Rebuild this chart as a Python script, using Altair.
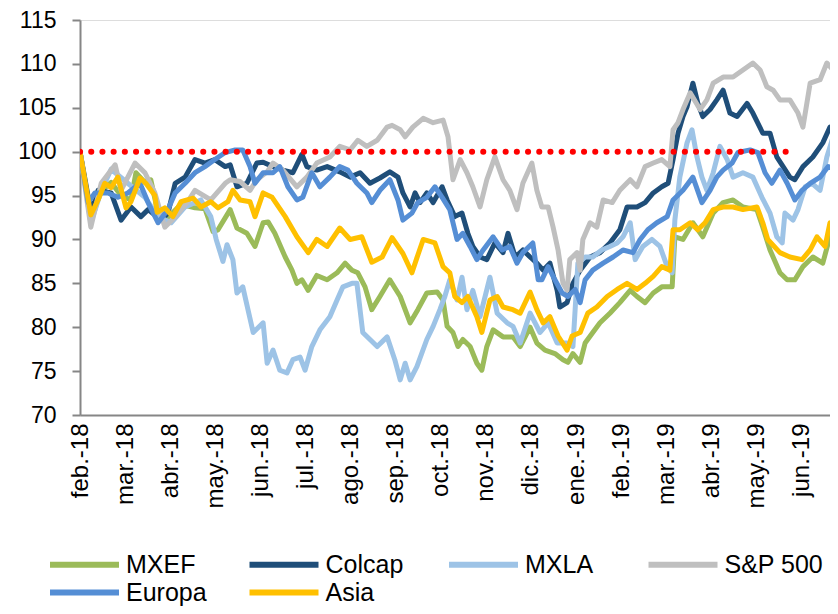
import json
import altair as alt
import pandas as pd

month_labels = ["feb.-18", "mar.-18", "abr.-18", "may.-18", "jun.-18", "jul.-18",
                "ago.-18", "sep.-18", "oct.-18", "nov.-18", "dic.-18", "ene.-19",
                "feb.-19", "mar.-19", "abr.-19", "may.-19", "jun.-19"]
y_ticks = [70, 75, 80, 85, 90, 95, 100, 105, 110, 115]

series_names = ["MXEF", "Colcap", "MXLA", "S&P 500", "Europa", "Asia"]
series_colors = ["#9BBB59", "#1F4E79", "#9DC3E6", "#BFBFBF", "#558ED5", "#FFC000"]

# t = months since start of feb.-18
mxef_t = [0, 0.24, 0.47, 0.69, 0.91, 1.13, 1.24, 1.44, 1.57, 1.73, 1.95, 2.24, 2.55, 2.77, 2.95, 3.06,
          3.33, 3.48, 3.70, 3.88, 4.06, 4.17, 4.32, 4.55, 4.70, 4.81, 4.92, 5.06, 5.25, 5.48, 5.70,
          5.88, 6.03, 6.16, 6.32, 6.47, 6.65, 6.87, 7.10, 7.32, 7.49, 7.69, 7.92, 8.05, 8.14, 8.27,
          8.38, 8.49, 8.65, 8.80, 8.91, 9.02, 9.16, 9.38, 9.60, 9.76, 9.98, 10.13, 10.31, 10.53,
          10.71, 10.82, 10.93, 11.09, 11.20, 11.37, 11.53, 11.75, 11.97, 12.20, 12.35, 12.53, 12.71,
          12.90, 13.13, 13.19, 13.37, 13.59, 13.81, 14.04, 14.26, 14.48, 14.70, 15.01, 15.14, 15.30,
          15.52, 15.68, 15.85, 16.03, 16.25, 16.47, 16.67, 16.81]
mxef_v = [100, 92.5, 95.5, 96.5, 95.0, 94.5, 97.6, 96.5, 96.8, 93.0, 92.5, 94.0, 93.6, 93.5, 90.9, 91.1,
          93.4, 91.3, 90.7, 89.2, 91.9, 92.0, 90.7, 88.0, 86.5, 85.0, 85.4, 84.2, 85.9, 85.4, 86.2,
          87.3, 86.5, 86.2, 84.6, 82.0, 83.5, 85.4, 83.5, 80.5, 82.0, 83.9, 84.0, 83.1, 80.1, 79.4,
          77.8, 78.6, 77.8, 75.9, 75.1, 77.8, 79.7, 78.9, 78.9, 77.8, 80.0, 78.2, 77.4, 77.0,
          76.3, 76.0, 77.0, 76.0, 78.2, 79.4, 80.5, 81.6, 82.8, 84.2, 83.5, 82.8, 83.9,
          84.6, 84.6, 90.3, 90.0, 91.9, 90.3, 93.0, 94.2, 94.5, 93.7, 93.4, 91.4, 88.8,
          86.2, 85.4, 85.4, 86.9, 88.0, 87.3, 91.1, 90.3]

colcap_t = [0, 0.18, 0.29, 0.40, 0.69, 0.91, 1.13, 1.35, 1.51, 1.80, 1.95, 2.11, 2.33, 2.55, 2.77, 2.99,
            3.22, 3.33, 3.48, 3.70, 3.92, 4.06, 4.28, 4.50, 4.72, 4.92, 5.03, 5.25, 5.48, 5.76, 5.99,
            6.21, 6.43, 6.65, 6.87, 7.05, 7.16, 7.32, 7.43, 7.54, 7.69, 7.83, 8.03, 8.14, 8.31, 8.47,
            8.60, 8.71, 8.87, 9.02, 9.20, 9.38, 9.49, 9.65, 9.82, 9.98, 10.13, 10.27, 10.42, 10.58,
            10.64, 10.80, 10.93, 11.09, 11.31, 11.53, 11.75, 11.97, 12.13, 12.35, 12.53, 12.71, 12.90,
            13.04, 13.15, 13.26, 13.37, 13.46, 13.59, 13.70, 13.81, 13.97, 14.12, 14.26, 14.41, 14.57,
            14.79, 14.92, 15.14, 15.30, 15.45, 15.59, 15.74, 15.85, 16.03, 16.25, 16.47, 16.63, 16.78]
colcap_v = [100, 94.9, 93.4, 95.6, 95.3, 92.2, 93.7, 92.6, 93.4, 92.2, 93.0, 96.4, 97.1, 99.1, 98.7, 99.1,
            98.3, 98.5, 96.0, 96.4, 98.7, 98.8, 98.3, 97.9, 97.6, 99.7, 98.3, 97.9, 98.3, 97.7, 97.1,
            97.6, 96.4, 97.0, 97.7, 97.1, 95.3, 93.7, 95.3, 94.2, 95.3, 94.2, 96.0, 94.5, 92.6, 93.0,
            90.7, 89.2, 88.0, 87.7, 89.6, 88.5, 90.7, 88.0, 88.8, 88.0, 87.3, 86.5, 87.3, 84.2,
            82.3, 82.8, 85.0, 86.5, 88.0, 88.5, 89.6, 91.1, 93.7, 93.7, 94.2, 95.3, 96.0,
            96.4, 99.1, 102.1, 104.0, 105.1, 107.8, 105.5, 104.0, 104.8, 105.9, 107.0, 104.4, 104.0,
            105.5, 104.4, 102.1, 102.1, 99.4, 98.3, 97.1, 96.8, 98.3, 99.4, 101.0, 102.8, 102.5]

mxla_t = [0, 0.24, 0.47, 0.69, 1.06, 1.44, 1.73, 2.02, 2.33, 2.68, 2.90, 3.02, 3.17, 3.26, 3.39, 3.48,
          3.61, 3.84, 4.06, 4.15, 4.28, 4.43, 4.59, 4.72, 4.88, 4.99, 5.14, 5.32, 5.54, 5.70, 5.83,
          6.03, 6.14, 6.27, 6.43, 6.59, 6.81, 6.98, 7.10, 7.21, 7.32, 7.47, 7.69, 7.83, 7.98, 8.09,
          8.20, 8.36, 8.47, 8.58, 8.71, 8.87, 9.09, 9.25, 9.47, 9.60, 9.76, 9.98, 10.20, 10.38,
          10.58, 10.80, 10.93, 11.04, 11.20, 11.37, 11.57, 11.75, 11.91, 12.04, 12.20, 12.31, 12.48,
          12.68, 12.86, 13.02, 13.13, 13.19, 13.30, 13.46, 13.57, 13.68, 13.79, 13.90, 14.04, 14.19,
          14.35, 14.48, 14.70, 14.92, 15.12, 15.30, 15.45, 15.57, 15.63, 15.81, 15.92, 16.08, 16.23,
          16.41, 16.56, 16.70, 16.81]
mxla_v = [100, 91.9, 95.5, 98.0, 96.4, 94.8, 92.6, 91.9, 93.7, 94.5, 92.6, 90.0, 87.5, 89.4, 87.7, 83.9,
          84.6, 79.4, 80.5, 75.9, 77.4, 75.1, 74.8, 76.3, 76.6, 75.1, 77.8, 79.7, 81.2, 83.1, 84.6,
          85.0, 85.0, 79.4, 78.6, 77.8, 78.9, 76.3, 74.0, 75.9, 74.0, 75.5, 78.6, 80.1, 82.0, 83.5,
          85.4, 83.1, 85.7, 82.0, 84.2, 81.2, 85.7, 81.6, 80.5, 80.1, 78.2, 81.6, 79.4, 80.5,
          78.2, 78.2, 77.8, 87.3, 88.0, 88.0, 88.8, 89.2, 89.6, 90.3, 91.9, 87.7, 89.2,
          90.0, 89.2, 86.9, 86.2, 92.2, 97.1, 101.0, 102.5, 99.4, 97.1, 95.6, 97.6, 100.6,
          99.1, 97.1, 97.6, 97.1, 94.8, 93.0, 90.3, 89.6, 93.0, 92.2, 93.4, 96.0, 96.4,
          95.6, 99.4, 101.7, 101.3]

sp500_t = [0, 0.24, 0.47, 0.78, 0.91, 1.22, 1.44, 1.66, 1.88, 2.11, 2.39, 2.55, 2.90, 3.22, 3.33, 3.55,
           3.77, 3.92, 4.15, 4.28, 4.50, 4.81, 5.03, 5.25, 5.54, 5.76, 5.99, 6.16, 6.36, 6.59, 6.81,
           6.92, 7.10, 7.21, 7.38, 7.61, 7.83, 8.05, 8.16, 8.27, 8.43, 8.58, 8.71, 8.87, 9.02, 9.20,
           9.38, 9.53, 9.69, 9.82, 10.02, 10.13, 10.24, 10.38, 10.49, 10.60, 10.71, 10.80, 10.86,
           11.02, 11.09, 11.15, 11.31, 11.46, 11.60, 11.80, 11.97, 12.20, 12.35, 12.53, 12.71, 12.90,
           13.08, 13.15, 13.26, 13.37, 13.53, 13.75, 13.90, 14.04, 14.26, 14.48, 14.70, 14.92, 15.08,
           15.23, 15.37, 15.52, 15.74, 15.92, 16.03, 16.19, 16.41, 16.56, 16.70, 16.81]
sp500_v = [100, 91.4, 96.4, 98.5, 95.6, 98.7, 97.6, 95.3, 91.4, 92.6, 94.3, 95.6, 94.5, 96.4, 96.8, 96.6,
           95.6, 96.8, 97.7, 98.7, 97.9, 96.0, 97.1, 98.7, 99.4, 100.6, 100.2, 101.3, 100.6, 101.3, 102.8,
           103.0, 102.5, 101.7, 102.8, 103.8, 103.3, 103.6, 101.7, 96.8, 99.1, 97.6, 96.0, 93.7, 96.8, 99.4,
           96.8, 95.6, 93.4, 96.4, 98.7, 95.6, 93.7, 93.7, 91.4, 88.8, 85.0, 84.2, 87.7,
           88.5, 86.5, 90.0, 91.9, 91.4, 94.5, 94.2, 95.6, 96.8, 96.0, 98.3, 98.7, 99.1,
           98.3, 102.5, 103.3, 104.8, 106.7, 104.8, 105.9, 107.8, 108.5, 108.5, 109.3, 110.1, 109.3,
           107.4, 107.0, 105.9, 105.9, 104.4, 102.8, 107.8, 108.2, 110.1, 109.3, 109.3]

europa_t = [0, 0.18, 0.33, 0.62, 0.84, 1.06, 1.33, 1.51, 1.73, 1.95, 2.11, 2.33, 2.55, 2.77, 2.99, 3.22,
            3.44, 3.61, 3.77, 3.88, 4.06, 4.28, 4.43, 4.61, 4.81, 4.94, 5.14, 5.32, 5.54, 5.76, 5.94,
            6.14, 6.36, 6.47, 6.65, 6.87, 7.05, 7.16, 7.36, 7.49, 7.69, 7.87, 8.03, 8.20, 8.36, 8.49,
            8.65, 8.80, 8.94, 9.16, 9.36, 9.53, 9.69, 9.82, 10.04, 10.16, 10.24, 10.38, 10.53, 10.69,
            10.82, 10.98, 11.09, 11.20, 11.37, 11.60, 11.82, 12.04, 12.26, 12.42, 12.59, 12.79, 13.02,
            13.15, 13.37, 13.59, 13.79, 13.97, 14.12, 14.26, 14.46, 14.59, 14.86, 15.03, 15.19, 15.34,
            15.52, 15.68, 15.85, 16.01, 16.19, 16.41, 16.59, 16.81]
europa_v = [100, 94.2, 95.3, 95.3, 94.8, 95.3, 96.4, 94.2, 91.9, 93.4, 95.3, 96.4, 97.6, 98.3, 99.1, 99.9,
            100.2, 100.2, 98.3, 96.4, 97.6, 97.6, 98.3, 96.0, 94.5, 94.8, 97.6, 96.0, 97.1, 98.3, 97.9,
            96.4, 95.3, 94.2, 95.6, 96.8, 94.5, 92.2, 93.0, 94.2, 94.8, 96.0, 94.8, 93.4, 90.0, 90.7,
            89.2, 87.7, 88.8, 90.3, 88.8, 89.2, 87.3, 88.5, 89.6, 85.4, 85.4, 86.9, 85.4, 83.9,
            83.5, 84.3, 82.8, 85.4, 86.5, 87.3, 88.0, 88.8, 88.5, 90.0, 91.1, 91.9, 92.6,
            94.5, 95.6, 97.1, 94.2, 95.6, 97.1, 97.9, 98.7, 99.9, 100.2, 99.9, 97.6, 96.4,
            97.9, 96.4, 94.5, 95.6, 96.4, 97.1, 98.3, 97.9]

asia_t = [0, 0.24, 0.40, 0.55, 0.69, 0.84, 1.02, 1.13, 1.33, 1.46, 1.66, 1.71, 1.88, 2.06, 2.24, 2.51,
          2.68, 2.90, 3.06, 3.28, 3.39, 3.55, 3.77, 3.88, 4.06, 4.26, 4.55, 4.81, 5.06, 5.25, 5.48,
          5.76, 5.99, 6.25, 6.47, 6.70, 6.92, 7.16, 7.36, 7.47, 7.61, 7.87, 8.05, 8.20, 8.31, 8.47,
          8.60, 8.80, 8.91, 9.09, 9.25, 9.38, 9.60, 9.76, 9.98, 10.13, 10.27, 10.42, 10.60, 10.80,
          10.91, 11.09, 11.26, 11.46, 11.69, 11.91, 12.13, 12.35, 12.53, 12.71, 12.90, 13.08, 13.15,
          13.30, 13.53, 13.70, 13.86, 14.04, 14.26, 14.48, 14.70, 15.01, 15.14, 15.25, 15.52, 15.74,
          16.01, 16.19, 16.34, 16.52, 16.63, 16.81]
asia_v = [100, 92.8, 94.5, 96.4, 95.9, 97.1, 93.6, 94.3, 97.0, 96.4, 95.0, 93.1, 93.6, 92.6, 94.3, 94.7,
          93.7, 94.3, 93.6, 94.3, 95.6, 94.5, 94.3, 92.6, 95.3, 94.8, 92.6, 90.3, 88.5, 90.0, 89.2,
          91.3, 90.0, 90.3, 87.4, 88.0, 90.2, 88.4, 86.2, 87.9, 90.0, 89.6, 86.9, 86.2, 83.5, 82.8,
          83.5, 81.2, 79.4, 83.1, 83.5, 82.3, 82.0, 81.6, 84.0, 82.0, 80.5, 81.2, 79.0, 77.4,
          79.0, 79.4, 81.6, 82.3, 83.5, 84.3, 85.0, 84.3, 85.0, 85.8, 86.9, 86.5, 91.1,
          91.1, 91.9, 91.1, 91.9, 93.4, 93.7, 93.7, 93.4, 93.7, 91.9, 90.0, 88.5, 88.0,
          87.7, 88.8, 90.3, 89.2, 91.9, 91.9]

ref_t = [0, 15.85]
ref_v = [100, 100]

series_data = [(mxef_t, mxef_v), (colcap_t, colcap_v), (mxla_t, mxla_v),
               (sp500_t, sp500_v), (europa_t, europa_v), (asia_t, asia_v)]
frames = []
for name, (ts, vs) in zip(series_names, series_data):
    frames.append(pd.DataFrame({"t": ts, "v": vs, "serie": name}))
df = pd.concat(frames, ignore_index=True)
ref_df = pd.DataFrame({"t": ref_t, "v": ref_v})

FONT = "Liberation Sans"
label_expr = json.dumps(month_labels) + "[round(datum.value)]"

x_enc = alt.X("t:Q",
              scale=alt.Scale(domain=[0, 16.63], nice=False, zero=False),
              axis=alt.Axis(values=list(range(len(month_labels))), labelExpr=label_expr,
                            labelAngle=-90, ticks=False, grid=False, title=None,
                            labelFontSize=24, labelPadding=8, labelFont=FONT,
                            labelColor="#000000", domainColor="#868686", domainWidth=2))
y_enc = alt.Y("v:Q",
              scale=alt.Scale(domain=[70, 115], nice=False, zero=False),
              axis=alt.Axis(values=y_ticks, grid=False, title=None, tickSize=8,
                            tickColor="#868686", tickWidth=2, labelFontSize=23,
                            labelPadding=16, labelFont=FONT, labelColor="#000000",
                            domainColor="#868686", domainWidth=2))

# long horizontal stroke as legend key (custom path, scaled by sqrt(size)/2)
legend_symbol = "M-3,0L3,0"

lines = alt.Chart(df).mark_line(strokeWidth=5, strokeJoin="round", strokeCap="round",
                                clip=True).encode(
    x=x_enc,
    y=y_enc,
    color=alt.Color("serie:N",
                    scale=alt.Scale(domain=series_names, range=series_colors),
                    sort=series_names,
                    legend=alt.Legend(title=None, orient="none", legendX=-10, legendY=530,
                                      direction="horizontal", columns=4,
                                      symbolType=legend_symbol, symbolSize=529,
                                      symbolStrokeWidth=6, labelFontSize=25, labelFont=FONT,
                                      labelColor="#000000", columnPadding=12.5, rowPadding=0,
                                      gridAlign="all", labelOffset=27, labelLimit=300)),
)

ref = alt.Chart(ref_df).mark_line(color="#FF0000", strokeWidth=6, strokeDash=[0.1, 11.1],
                                  strokeCap="round", clip=True).encode(
    x=alt.X("t:Q"), y=alt.Y("v:Q"))

chart = alt.layer(lines, ref).properties(
    width=750, height=395,
    padding={"left": 72, "top": 12, "right": 0, "bottom": 191},
    autosize=alt.AutoSizeParams(type="none"),
).configure_view(stroke=None).configure(background="white")

chart.save("out.html", embed_options={"renderer": "svg", "actions": False})
